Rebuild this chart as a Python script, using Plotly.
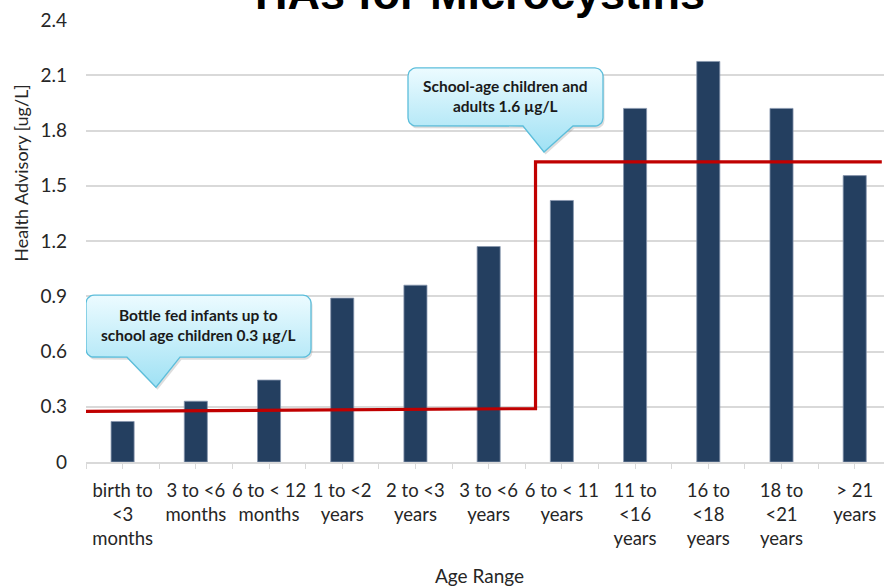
import numpy as np
import plotly.graph_objects as go

# ---------------- data ----------------
categories = ["birth to<br><3<br>months", "3 to <6<br>months", "6 to < 12<br>months",
              "1 to <2<br>years", "2 to <3<br>years", "3 to <6<br>years",
              "6 to < 11<br>years", "11 to<br><16<br>years", "16 to<br><18<br>years",
              "18 to<br><21<br>years", "> 21<br>years"]
health_advisory = [0.22, 0.33, 0.445, 0.89, 0.96, 1.17, 1.42, 1.92, 2.175, 1.92, 1.555]
# red step line (HA levels as drawn)
ha_line_x = [-0.55, 5.64, 5.64, 10.37]
ha_line_y = [0.275, 0.29, 1.63, 1.63]
y_ticks = [0, 0.3, 0.6, 0.9, 1.2, 1.5, 1.8, 2.1, 2.4]
y_tick_text = ["0", "0.3", "0.6", "0.9", "1.2", "1.5", "1.8", "2.1", "2.4"]
callout_school = "School-age children and<br>adults 1.6 µg/L"
callout_infant = "Bottle fed infants up to<br>school age children 0.3 µg/L"

# ---------------- layout geometry ----------------
W, H = 884, 586
ML, MR, MT, MB = 86, 0, 20.1, 124.3
XR = [-0.5, 10.4]
YR = [0, 2.4]
PW = W - ML - MR
PH = H - MT - MB


def px2x(px):
    return XR[0] + (px - ML) / PW * (XR[1] - XR[0])


def px2y(py):
    return YR[0] + (H - MB - py) / PH * (YR[1] - YR[0])


def callout_poly(x0, y0, x1, y1, bl, br, tipx, tipy, r=8, dx=0, dy=0):
    pts = []
    def arc(cx, cy, a0, a1):
        for a in np.linspace(a0, a1, 8):
            pts.append((cx + r * np.cos(a), cy + r * np.sin(a)))
    # pixel coords, y downward
    arc(x0 + r, y0 + r, np.pi, 1.5 * np.pi)          # top-left
    arc(x1 - r, y0 + r, 1.5 * np.pi, 2 * np.pi)      # top-right
    arc(x1 - r, y1 - r, 0, 0.5 * np.pi)              # bottom-right
    pts.append((br, y1))
    pts.append((tipx, tipy))
    pts.append((bl, y1))
    arc(x0 + r, y1 - r, 0.5 * np.pi, np.pi)          # bottom-left
    pts.append(pts[0])
    xs = [px2x(p[0] + dx) for p in pts]
    ys = [px2y(p[1] + dy) for p in pts]
    return xs, ys


FONT = "Lato, Liberation Sans, Arial, sans-serif"
TXT = "#262626"

fig = go.Figure()

fig.add_trace(go.Bar(
    x=list(range(len(categories))), y=health_advisory, width=0.315,
    marker=dict(color="#243F60", line=dict(color="#8796ad", width=0.8)),
    hoverinfo="skip", showlegend=False))

fig.add_trace(go.Scatter(
    x=ha_line_x, y=ha_line_y, mode="lines",
    line=dict(color="#C00000", width=3.2), hoverinfo="skip", showlegend=False))

callouts = [
    dict(box=(408, 68, 603, 126), base=(523, 573), tip=(544, 152), text=callout_school),
    dict(box=(86, 295, 311, 357), base=(127, 180), tip=(156, 387), text=callout_infant),
]
for c in callouts:
    x0, y0, x1, y1 = c["box"]
    sx, sy = callout_poly(x0, y0, x1, y1, c["base"][0], c["base"][1], c["tip"][0], c["tip"][1], dx=1.5, dy=2.5)
    fig.add_trace(go.Scatter(x=sx, y=sy, mode="lines", fill="toself",
                             fillcolor="rgba(120,120,120,0.25)", line=dict(width=0),
                             hoverinfo="skip", showlegend=False, cliponaxis=False))
    xs, ys = callout_poly(x0, y0, x1, y1, c["base"][0], c["base"][1], c["tip"][0], c["tip"][1])
    fig.add_trace(go.Scatter(x=xs, y=ys, mode="lines", fill="toself",
                             fillgradient=dict(type="vertical",
                                               colorscale=[[0, "#9fe1f4"], [1, "#ecfbff"]]),
                             line=dict(color="#5cbedb", width=1.3),
                             hoverinfo="skip", showlegend=False, cliponaxis=False))
    fig.add_annotation(x=px2x((x0 + x1) / 2), y=px2y((y0 + y1) / 2 - 1), xref="x", yref="y",
                       text=c["text"], showarrow=False,
                       font=dict(family=FONT, size=15.5, color="#1a1a1a", weight="bold"))

fig.update_layout(
    width=W, height=H,
    margin=dict(l=ML, r=MR, t=MT, b=MB),
    paper_bgcolor="white", plot_bgcolor="white",
    showlegend=False,
    xaxis=dict(range=XR, tickvals=list(range(len(categories))), ticktext=categories,
               showgrid=False, zeroline=False, showline=True, linecolor="#d9d9d9", linewidth=1.5,
               ticks="outside", ticklen=5, tickcolor="#d9d9d9", tickwidth=1.2,
               minor=dict(tickvals=[i - 0.5 for i in range(len(categories))], ticks="outside",
                          ticklen=5, tickcolor="#d9d9d9", tickwidth=1.2),
               tickfont=dict(family=FONT, size=18.5, color=TXT), tickangle=0,
               ticklabelstandoff=6, fixedrange=True),
    yaxis=dict(range=YR, tickvals=y_ticks, ticktext=y_tick_text,
               showgrid=True, gridcolor="#d9d9d9", gridwidth=1.5, zeroline=False,
               ticks="", tickfont=dict(family=FONT, size=19, color=TXT),
               ticklabelstandoff=18, fixedrange=True),
    annotations=list(fig.layout.annotations) + [
        dict(text="HAs for Microcystins", xref="paper", yref="paper",
             x=(480 - ML) / PW, y=(H - MB + 6) / PH, xanchor="center", yanchor="middle",
             showarrow=False, font=dict(family="Liberation Sans, Arial, sans-serif", size=45,
                                        color="#000000", weight="bold")),
        dict(text="Health Advisory [ug/L]", xref="paper", yref="paper",
             x=(20.7 - ML) / PW, y=(H - MB - 173) / PH, xanchor="center", yanchor="middle",
             textangle=-90, showarrow=False, font=dict(family=FONT, size=18, color=TXT)),
        dict(text="Age Range", xref="paper", yref="paper",
             x=(479.5 - ML) / PW, y=(H - MB - 575) / PH, xanchor="center", yanchor="middle",
             showarrow=False, font=dict(family=FONT, size=19, color=TXT)),
    ],
)

fig.write_html("out.html")
